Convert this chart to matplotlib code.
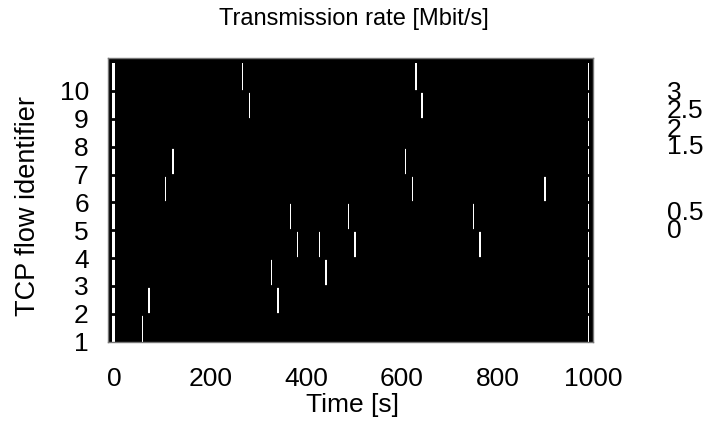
"""Per-flow transmission rate heat map (TCP flows vs. time)."""

import matplotlib

matplotlib.use("Agg")

import matplotlib.pyplot as plt
import numpy as np

plt.rcParams["font.family"] = ["Liberation Sans", "DejaVu Sans"]

# --- data --------------------------------------------------------------
flow_ids = [1, 2, 3, 4, 5, 6, 7, 8, 9, 10]
time_start = -13.0
time_end = 1000.0
active_rate = 3.0  # Mbit/s, every non-gap cell is at the top of the scale

# gaps where a flow sent nothing (start / end in seconds)
common_gaps = [(-6.0, 1.0), (988.5, 991.0)]
gap_flow = [10, 10, 9, 9, 7, 7, 6, 6, 6, 5, 5, 5, 4, 4, 4, 4, 3, 3, 2, 2, 1]
gap_start = [266.0, 627.0, 280.5, 639.5, 119.5, 606.5, 105.0, 621.0, 896.5,
             366.0, 487.0, 748.5, 381.0, 426.5, 499.5, 761.5, 326.5, 439.5,
             70.0, 339.0, 57.0]
gap_end = [268.0, 631.0, 282.5, 643.5, 123.5, 608.5, 107.0, 623.0, 900.5,
           368.0, 489.0, 750.5, 383.0, 428.5, 503.5, 765.5, 328.5, 443.5,
           74.0, 343.0, 59.0]

x_ticks = [0, 200, 400, 600, 800, 1000]
cbar_labels = ["3", "2.5", "2", "1.5", "0.5", "0"]
cbar_label_y_px = [93, 111.5, 130, 147, 213, 231.5]


def build_rate_matrix():
    edges = {time_start, time_end}
    for start, end in common_gaps:
        edges.update((start, end))
    edges.update(gap_start)
    edges.update(gap_end)
    x_edges = np.array(sorted(edges))
    mids = (x_edges[:-1] + x_edges[1:]) / 2

    rates = np.full((len(flow_ids), len(mids)), active_rate)
    for row, flow in enumerate(flow_ids):
        gaps = list(common_gaps)
        gaps += [(s, e) for f, s, e in zip(gap_flow, gap_start, gap_end) if f == flow]
        for start, end in gaps:
            rates[row, (mids > start) & (mids < end)] = 0.0
    return x_edges, rates


def main():
    W, H = 708, 442
    fig = plt.figure(figsize=(W / 100, H / 100), dpi=100)
    ax = fig.add_axes([108.3 / W, 1 - 341.7 / H, 485 / W, 283.4 / H])
    ax.set_facecolor("black")

    x_edges, rates = build_rate_matrix()
    y_edges = np.arange(flow_ids[0], flow_ids[-1] + 2)
    ax.pcolormesh(x_edges, y_edges, rates, cmap="gray_r", vmin=0, vmax=3,
                  shading="flat", antialiased=False, snap=True)
    ax.hlines(y_edges[1:-1], time_start, time_end, color="black", lw=2)

    ax.set_xlim(time_start, time_end)
    ax.set_ylim(flow_ids[0], flow_ids[-1] + 1.17)
    ax.set_xticks(x_ticks)
    ax.set_yticks(flow_ids)
    ax.tick_params(length=0, labelsize=19)
    ax.tick_params(axis="x", pad=18)
    ax.tick_params(axis="y", pad=14)
    for spine in ax.spines.values():
        spine.set_color("#777777")
        spine.set_linewidth(1)

    fig.text(354 / W, 1 - 19 / H, "Transmission rate [Mbit/s]", fontsize=17,
             ha="center", va="center")
    fig.text(353 / W, 1 - 405 / H, "Time [s]", fontsize=19,
             ha="center", va="center")
    fig.text(28 / W, 1 - 206 / H, "TCP flow identifier", fontsize=19.5,
             ha="center", va="center", rotation=90)
    for label, y_px in zip(cbar_labels, cbar_label_y_px):
        fig.text(666.7 / W, 1 - y_px / H, label, fontsize=19, ha="left", va="center")

    fig.savefig("out.png", dpi=100)
    plt.close(fig)


if __name__ == "__main__":
    main()
